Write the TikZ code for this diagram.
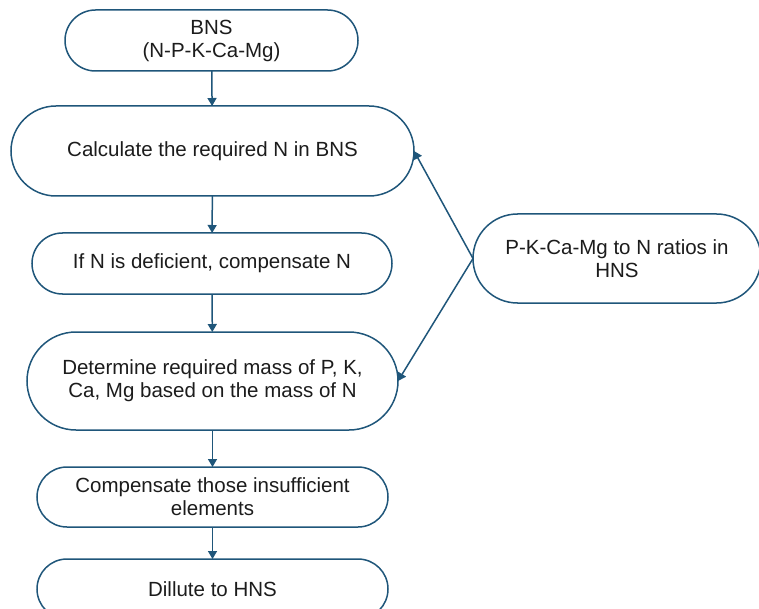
\documentclass[tikz,border=0pt]{standalone}
\usepackage{fontspec}
\setmainfont{Liberation Sans}
\usepackage{tikz}
\usetikzlibrary {arrows.meta,shapes.misc}
\definecolor{flowblue}{RGB}{31,86,122}
\definecolor{textgray}{RGB}{28,28,28}

\begin{document}
\begin{tikzpicture}[x=1pt, y=-1pt,
  stepnode/.style={draw=flowblue, line width=1.5pt, fill=white, rounded rectangle,
    inner sep=0pt, outer sep=0pt, align=center, text=textgray,
    font=\fontsize{20.5}{23}\selectfont},
  link/.style={draw=flowblue, line width=1.5pt, -{Triangle[width=9pt,length=8pt]}}]

\useasboundingbox (0,0) rectangle (759,609);

\node (bns) at (211.5,40.5) [stepnode, minimum width=293pt, minimum height=61pt]{BNS\\(N-P-K-Ca-Mg)};
\node (calc) at (212.5,151) [stepnode, minimum width=403pt, minimum height=90pt]{Calculate the required N in BNS};
\node (defic) at (212,263.5) [stepnode, minimum width=360pt, minimum height=61pt]{If N is deficient, compensate N};
\node (mass) at (212.5,381) [stepnode, minimum width=371pt, minimum height=98pt]{Determine required mass of P, K,\\Ca, Mg based on the mass of N};
\node (insuf) at (212.5,497) [stepnode, minimum width=351pt, minimum height=60pt]{Compensate those insufficient\\elements};
\node (dilute) at (212.5,589) [stepnode, minimum width=351pt, minimum height=60pt]{Dillute to HNS};

\node (hns) at (617,258.5) [stepnode, minimum width=288pt, minimum height=89pt]{P-K-Ca-Mg to N ratios in\\HNS};

\draw [link] (bns) -- (calc);
\draw [link] (calc) -- (defic);
\draw [link] (defic) -- (mass);
\draw [link] (mass) -- (insuf);
\draw [link] (insuf) -- (dilute);

\draw [link] (hns.west) -- (calc.east);
\draw [link] (hns.west) -- (mass.east);

\end{tikzpicture}
\end{document}
